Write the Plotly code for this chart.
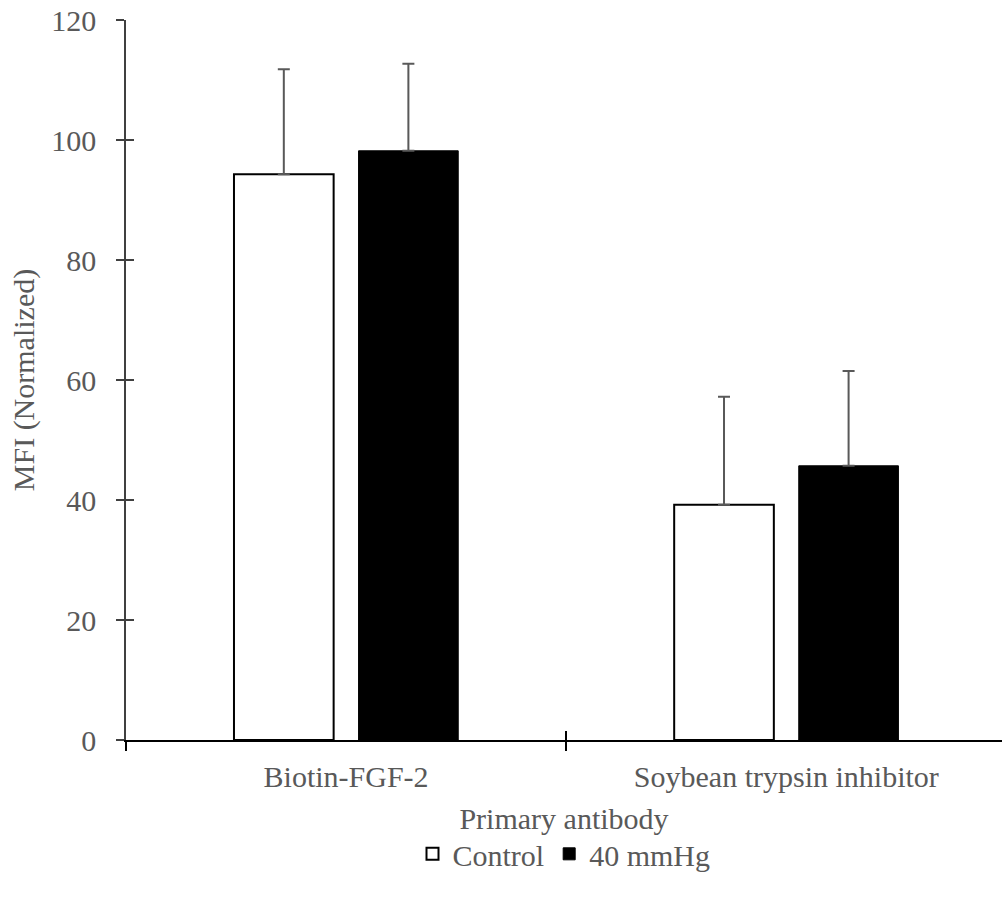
import plotly.graph_objects as go

categories = ["Biotin-FGF-2", "Soybean trypsin inhibitor"]
series_names = ["Control", "40 mmHg"]
control_vals = [94.3, 39.2]
control_err = [17.5, 18.0]
hg_vals = [98.2, 45.7]
hg_err = [14.5, 15.8]
y_ticks = [0, 20, 40, 60, 80, 100, 120]

FONT = "Liberation Serif, Times New Roman, serif"
TXT = "#595959"
ERR = "#595959"
FS = 30

fig = go.Figure()
fig.add_trace(go.Bar(
    name=series_names[0], x=categories, y=control_vals,
    marker=dict(color="white", line=dict(color="black", width=2)),
    error_y=dict(type="data", array=control_err, symmetric=False, arrayminus=[0, 0],
                 color=ERR, thickness=2, width=6),
))
fig.add_trace(go.Bar(
    name=series_names[1], x=categories, y=hg_vals,
    marker=dict(color="black", line=dict(color="black", width=1)),
    error_y=dict(type="data", array=hg_err, symmetric=False, arrayminus=[0, 0],
                 color=ERR, thickness=2, width=6),
))

# invisible helper trace on mirrored axes to draw the inner half of crossing ticks
fig.add_trace(go.Scatter(x=categories, y=[None, None], xaxis="x2", yaxis="y2",
                         showlegend=False, hoverinfo="skip"))

fig.update_layout(
    width=1002, height=898,
    margin=dict(l=126, r=0, t=20, b=158),
    paper_bgcolor="white", plot_bgcolor="white",
    barmode="group", bargap=0.434, bargroupgap=0.2,
    font=dict(family=FONT, size=FS, color=TXT),
    legend=dict(orientation="h", x=0.5, xanchor="center", y=-0.122, yanchor="top",
                font=dict(size=FS, color=TXT), itemwidth=30, traceorder="normal"),
    xaxis=dict(
        type="category", range=[-0.5, 1.49], tickson="boundaries",
        ticks="outside", ticklen=9, tickwidth=2, tickcolor="black",
        showline=True, linecolor="black", linewidth=2, automargin=False,
        title=dict(text="Primary antibody", font=dict(size=FS, color=TXT), standoff=16),
        tickfont=dict(size=FS, color=TXT), ticklabelstandoff=9,
    ),
    yaxis=dict(
        range=[0, 120], tickvals=y_ticks, ticks="outside", ticklen=8, tickwidth=1.5,
        tickcolor="#404040", showline=True, linecolor="#404040", linewidth=1.5,
        showgrid=False, zeroline=False, ticklabeloverflow="allow", automargin=False,
        title=dict(text="MFI (Normalized)", font=dict(size=FS, color=TXT), standoff=8),
        tickfont=dict(size=FS, color=TXT), ticklabelstandoff=14,
    ),
    xaxis2=dict(
        type="category", range=[-0.5, 1.49], tickson="boundaries", overlaying="x",
        anchor="y", side="bottom", ticks="inside", ticklen=9, tickwidth=2,
        tickcolor="black", showticklabels=False, showgrid=False, showline=False,
        categoryarray=categories, categoryorder="array", automargin=False,
    ),
    yaxis2=dict(
        range=[0, 120], tickvals=y_ticks, overlaying="y", anchor="x", side="left",
        ticks="inside", ticklen=8, tickwidth=1.5, tickcolor="#404040", automargin=False,
        showticklabels=False, showgrid=False, zeroline=False, showline=False,
    ),
)

fig.write_html("out.html", config={"displayModeBar": False},
               post_script="document.body.style.margin='0';document.body.style.overflow='hidden';")
